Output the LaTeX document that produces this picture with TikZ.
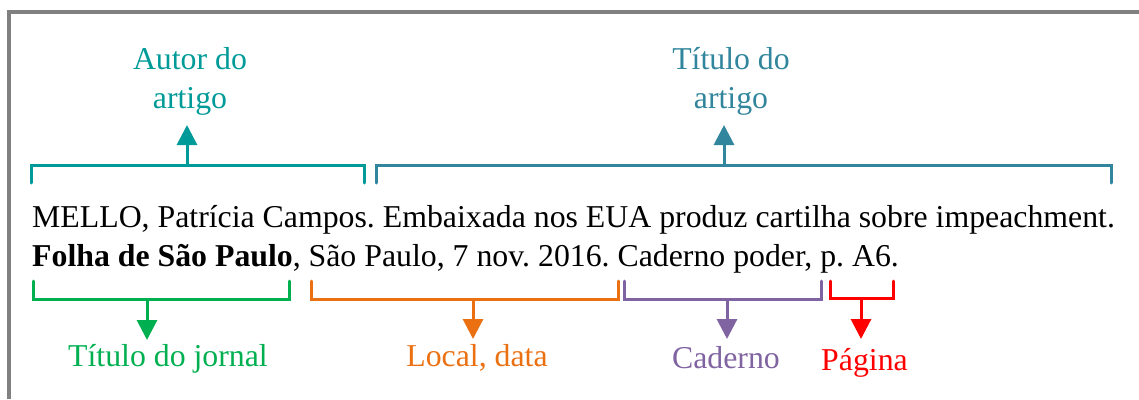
\documentclass[tikz,border=0pt]{standalone}
\usepackage{fontspec}
\setmainfont{Liberation Serif}
\usetikzlibrary{arrows.meta}
\definecolor{cautor}{RGB}{0,155,152}
\definecolor{ctitulo}{RGB}{49,133,156}
\definecolor{cjornal}{RGB}{0,176,80}
\definecolor{clocal}{RGB}{235,112,18}
\definecolor{ccaderno}{RGB}{128,100,162}
\definecolor{cpagina}{RGB}{255,0,0}
\definecolor{cframe}{RGB}{128,128,128}
\tikzset{
  txt/.style={inner sep=0pt, font=\fontsize{31.8}{38.3}\selectfont\frenchspacing},
  lbl/.style={txt, align=center, anchor=base},
  brk/.style={line width=3pt, line cap=round, line join=miter},
  arr/.style={line width=3pt, -{Triangle[width=20pt,length=20pt]}},
}
\begin{document}
\begin{tikzpicture}[x=1pt,y=-1pt]
\useasboundingbox (0,0) rectangle (1139,399);
% frame
\draw[cframe, line width=3.5pt] (9,399) -- (9,12) -- (1139,12);

% main reference text
\node[txt, anchor=base west] (l1) at (32,227.7)
  {MELLO, Patrícia Campos. Embaixada nos EUA produz cartilha sobre impeachment.};
\node[txt, anchor=base west] (l2) at (32,266)
  {\textbf{Folha de São Paulo}, São Paulo, 7 nov. 2016. Caderno poder, p. A6.};

% ---- top: Autor do artigo (base = last line)
\node[lbl, text=cautor] (autor) at (190,108) {Autor do\\artigo};
\coordinate (aL) at (31,183);
\coordinate (aR) at (364,183);
\coordinate (aM) at (187,165);
\coordinate (aT) at (187,125);
\draw[brk, cautor] (aL) -- (31,165) -- (364,165) -- (aR);
\draw[arr, cautor] (aM) -- (aT);

% ---- top: Título do artigo
\node[lbl, text=ctitulo] (titulo) at (731,108) {Título do\\artigo};
\coordinate (tL) at (376,183);
\coordinate (tR) at (1111,183);
\coordinate (tM) at (724,165);
\coordinate (tT) at (724,125);
\draw[brk, ctitulo] (tL) -- (376,165) -- (1111,165) -- (tR);
\draw[arr, ctitulo] (tM) -- (tT);

% ---- bottom: Título do jornal
\node[lbl, text=cjornal] (jornal) at (168,366) {Título do jornal};
\coordinate (jL) at (33,281);
\coordinate (jR) at (289,281);
\coordinate (jM) at (147,299);
\coordinate (jT) at (147,340);
\draw[brk, cjornal] (jL) -- (33,299) -- (289,299) -- (jR);
\draw[arr, cjornal] (jM) -- (jT);

% ---- bottom: Local, data
\node[lbl, text=clocal] (local) at (477,366) {Local, data};
\coordinate (oL) at (311,281);
\coordinate (oR) at (618,281);
\coordinate (oM) at (473,299);
\coordinate (oT) at (473,339);
\draw[brk, clocal] (oL) -- (311,299) -- (618,299) -- (oR);
\draw[arr, clocal] (oM) -- (oT);

% ---- bottom: Caderno
\node[lbl, text=ccaderno] (caderno) at (726,368) {Caderno};
\coordinate (cL) at (624,281);
\coordinate (cR) at (821,281);
\coordinate (cM) at (727,299);
\coordinate (cT) at (727,339);
\draw[brk, ccaderno] (cL) -- (624,299) -- (821,299) -- (cR);
\draw[arr, ccaderno] (cM) -- (cT);

% ---- bottom: Página
\node[lbl, text=cpagina] (pagina) at (864.5,370) {Página};
\coordinate (pL) at (830,281);
\coordinate (pR) at (893,281);
\coordinate (pM) at (861,298);
\coordinate (pT) at (861,339);
\draw[brk, cpagina] (pL) -- (830,298) -- (893,298) -- (pR);
\draw[arr, cpagina] (pM) -- (pT);
\end{tikzpicture}
\end{document}
